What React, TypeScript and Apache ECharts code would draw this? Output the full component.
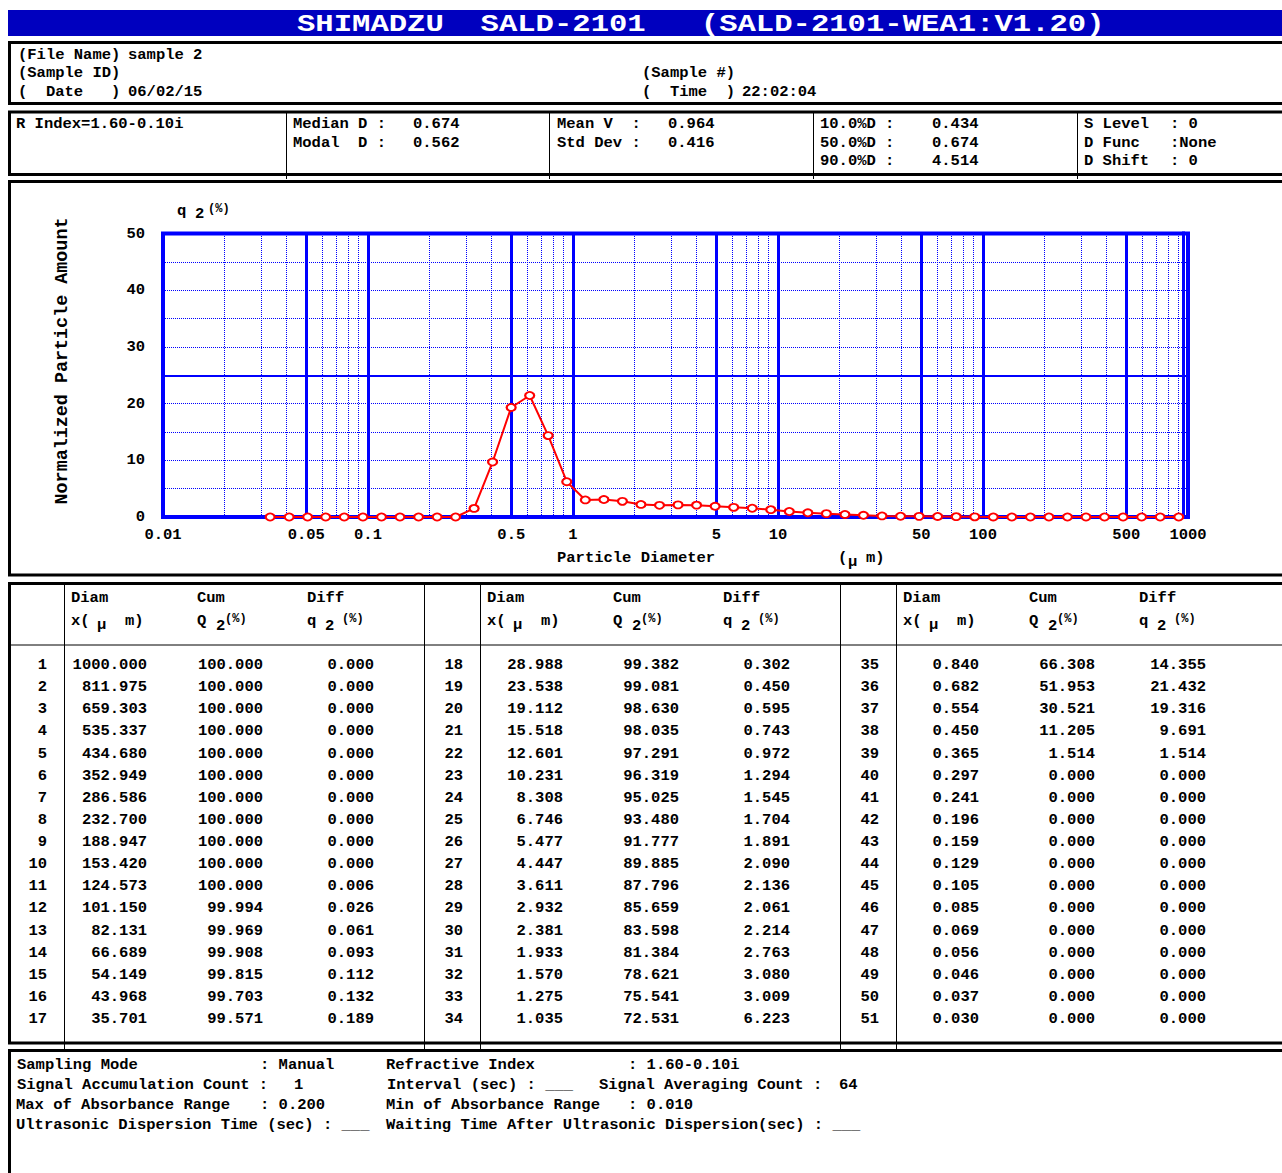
import React, { useEffect, useRef } from "react";
import * as echarts from "echarts";

// ---------- data ----------
const DIAMETERS = [
  1000.0, 811.975, 659.303, 535.337, 434.68, 352.949, 286.586, 232.7, 188.947, 153.42,
  124.573, 101.15, 82.131, 66.689, 54.149, 43.968, 35.701,
  28.988, 23.538, 19.112, 15.518, 12.601, 10.231, 8.308, 6.746, 5.477,
  4.447, 3.611, 2.932, 2.381, 1.933, 1.57, 1.275, 1.035,
  0.84, 0.682, 0.554, 0.45, 0.365, 0.297, 0.241, 0.196, 0.159,
  0.129, 0.105, 0.085, 0.069, 0.056, 0.046, 0.037, 0.03,
];
const CUM_Q2 = [
  100.0, 100.0, 100.0, 100.0, 100.0, 100.0, 100.0, 100.0, 100.0, 100.0,
  100.0, 99.994, 99.969, 99.908, 99.815, 99.703, 99.571,
  99.382, 99.081, 98.63, 98.035, 97.291, 96.319, 95.025, 93.48, 91.777,
  89.885, 87.796, 85.659, 83.598, 81.384, 78.621, 75.541, 72.531,
  66.308, 51.953, 30.521, 11.205, 1.514, 0.0, 0.0, 0.0, 0.0,
  0.0, 0.0, 0.0, 0.0, 0.0, 0.0, 0.0, 0.0,
];
const DIFF_Q2 = [
  0.0, 0.0, 0.0, 0.0, 0.0, 0.0, 0.0, 0.0, 0.0, 0.0,
  0.006, 0.026, 0.061, 0.093, 0.112, 0.132, 0.189,
  0.302, 0.45, 0.595, 0.743, 0.972, 1.294, 1.545, 1.704, 1.891,
  2.09, 2.136, 2.061, 2.214, 2.763, 3.08, 3.009, 6.223,
  14.355, 21.432, 19.316, 9.691, 1.514, 0.0, 0.0, 0.0, 0.0,
  0.0, 0.0, 0.0, 0.0, 0.0, 0.0, 0.0, 0.0,
];

const X_MIN = 0.01;
const X_MAX = 1000;
const Y_MAX = 50;
const X_DECADES = [0.01, 0.1, 1, 10, 100];
const X_MINOR_MULT = [2, 3, 4, 6, 7, 8, 9];
const X_MAJOR_LABELED = [0.05, 0.5, 5, 50, 500];
const X_MAJOR_PLAIN = [0.1, 1, 10, 100];

const TITLE = "SHIMADZU  SALD-2101   (SALD-2101-WEA1:V1.20)";
const FILE_NAME = "sample 2";
const DATE = "06/02/15";
const TIME = "22:02:04";
const R_INDEX = "R Index=1.60-0.10i";
const MEDIAN_D = "0.674";
const MODAL_D = "0.562";
const MEAN_V = "0.964";
const STD_DEV = "0.416";
const PCT_LABELS = ["10.0%D :", "50.0%D :", "90.0%D :"];
const PCT_VALUES = ["0.434", "0.674", "4.514"];
const SET_LABELS = ["S Level", "D Func", "D Shift"];
const SET_VALUES = [": 0", ":None", ": 0"];

// ---------- helpers ----------
const MONO = '"Liberation Mono", "Courier New", monospace';
const BLUE = "#0000ff";

function txt(text: string, x: number, y: number, o: any = {}) {
  const size = o.size ?? 15.5;
  const align = o.align ?? "left";
  return {
    type: "text",
    x,
    y,
    silent: true,
    rotation: o.rotation ?? 0,
    scaleX: o.scaleX ?? 1,
    style: {
      text,
      fill: o.fill ?? "#000",
      font: `bold ${size}px ${MONO}`,
      align,
      textAlign: align,
      verticalAlign: "middle",
      textVerticalAlign: "middle",
    },
  };
}
function line(x1: number, y1: number, x2: number, y2: number, w = 1, c = "#000") {
  return { type: "line", silent: true, shape: { x1, y1, x2, y2 }, style: { stroke: c, lineWidth: w } };
}
function box(x: number, y: number, w: number, h: number) {
  return { type: "rect", silent: true, shape: { x, y, width: w, height: h }, style: { fill: "none", stroke: "#000", lineWidth: 3 } };
}
function fmtNum(v: number) {
  return String(Number(Number(v).toPrecision(6)));
}

export default function App() {
  const ref = useRef<HTMLDivElement>(null);

  useEffect(() => {
    if (!ref.current) return;
    const chart = echarts.init(ref.current, undefined, { renderer: "svg" });

    const points = DIFF_Q2.slice(0, DIAMETERS.length - 1).map((q, i) => [
      Math.sqrt(DIAMETERS[i] * DIAMETERS[i + 1]),
      q,
    ]);

    const labelFont = { color: "#000", fontFamily: MONO, fontSize: 15.5, fontWeight: "bold" };
    const minorStyle = { color: BLUE, width: 1, type: "dotted" };
    const majorStyle = { color: BLUE, width: 3, type: "solid" };
    const markData: any[] = [];
    X_DECADES.forEach((d) =>
      X_MINOR_MULT.forEach((m) => markData.push({ xAxis: d * m, lineStyle: minorStyle }))
    );
    X_MAJOR_PLAIN.forEach((v) => markData.push({ xAxis: v, lineStyle: majorStyle }));
    X_MAJOR_LABELED.forEach((v) =>
      markData.push({
        xAxis: v,
        lineStyle: majorStyle,
        label: { show: true, position: "start", distance: 10, formatter: fmtNum(v), ...labelFont },
      })
    );
    markData.push({ yAxis: Y_MAX / 2, lineStyle: { color: BLUE, width: 2, type: "solid" } });

    const g: any[] = [];
    // title bar
    g.push({ type: "rect", silent: true, shape: { x: 8, y: 10, width: 1274, height: 26 }, style: { fill: "#0000bf" } });
    g.push(txt(TITLE, 297, 24, { size: 24, scaleX: 1.275, fill: "#fff" }));

    // boxes
    g.push(box(9.5, 42.5, 1300, 61));
    g.push(box(9.5, 112, 1300, 62.5));
    g.push(box(9.5, 181.5, 1300, 393.5));
    g.push(box(9.5, 583.5, 1300, 459.5));
    g.push(box(9.5, 1050.5, 1300, 200));

    // box 1
    g.push(txt("(File Name)", 18, 55));
    g.push(txt(FILE_NAME, 128, 55));
    g.push(txt("(Sample ID)", 18, 73));
    g.push(txt("(  Date   )", 18, 92));
    g.push(txt(DATE, 128, 92));
    g.push(txt("(Sample #)", 642, 73));
    g.push(txt("(  Time  )", 642, 92));
    g.push(txt(TIME, 742, 92));

    // box 2
    [286.5, 549.5, 813.5, 1077.5].forEach((x) => g.push(line(x, 112, x, 179)));
    const rowsY = [124, 143, 161];
    g.push(txt(R_INDEX, 16, rowsY[0]));
    g.push(txt("Median D :", 293, rowsY[0]));
    g.push(txt(MEDIAN_D, 413, rowsY[0]));
    g.push(txt("Modal  D :", 293, rowsY[1]));
    g.push(txt(MODAL_D, 413, rowsY[1]));
    g.push(txt("Mean V  :", 557, rowsY[0]));
    g.push(txt(MEAN_V, 668, rowsY[0]));
    g.push(txt("Std Dev :", 557, rowsY[1]));
    g.push(txt(STD_DEV, 668, rowsY[1]));
    PCT_LABELS.forEach((l, i) => {
      g.push(txt(l, 820, rowsY[i]));
      g.push(txt(PCT_VALUES[i], 932, rowsY[i]));
    });
    SET_LABELS.forEach((l, i) => {
      g.push(txt(l, 1084, rowsY[i]));
      g.push(txt(SET_VALUES[i], 1170, rowsY[i]));
    });

    // chart box texts
    g.push(txt("Normalized Particle Amount", 62, 361, { size: 18.4, rotation: Math.PI / 2, align: "center" }));
    g.push(txt("q", 177, 211));
    g.push(txt("2", 195, 214));
    g.push(txt("(%)", 208, 209, { size: 12 }));
    g.push(txt("Particle Diameter", 557, 558));
    g.push(txt("(", 838, 558));
    g.push(txt("μ", 848, 562));
    g.push(txt("m)", 866, 558));
    // inner thick right frame line (the 1000 line itself is the grid border)
    g.push(line(1183.5, 231.5, 1183.5, 519, 3, BLUE));

    // table
    g.push(line(9, 645, 1282, 645, 1));
    [64.5, 424.5, 480.5, 840.5, 896.5].forEach((x) => g.push(line(x, 583, x, 1050, 1)));
    const ROWS = 17;
    for (let grp = 0; grp < 3; grp++) {
      const dx = grp * 416;
      g.push(txt("Diam", 71 + dx, 598));
      g.push(txt("x(", 71 + dx, 621));
      g.push(txt("μ", 97 + dx, 625));
      g.push(txt("m)", 125 + dx, 621));
      g.push(txt("Cum", 197 + dx, 598));
      g.push(txt("Q", 197 + dx, 621));
      g.push(txt("2", 216 + dx, 626));
      g.push(txt("(%)", 225 + dx, 619, { size: 12 }));
      g.push(txt("Diff", 307 + dx, 598));
      g.push(txt("q", 307 + dx, 621));
      g.push(txt("2", 325 + dx, 626));
      g.push(txt("(%)", 342 + dx, 619, { size: 12 }));
      for (let r = 0; r < ROWS; r++) {
        const idx = grp * ROWS + r;
        const y = 665 + r * 22.125;
        g.push(txt(String(idx + 1), 47 + dx, y, { align: "right" }));
        g.push(txt(DIAMETERS[idx].toFixed(3), 147 + dx, y, { align: "right" }));
        g.push(txt(CUM_Q2[idx].toFixed(3), 263 + dx, y, { align: "right" }));
        g.push(txt(DIFF_Q2[idx].toFixed(3), 374 + dx, y, { align: "right" }));
      }
    }

    // bottom box
    const by = [1065, 1085, 1105, 1125];
    g.push(txt("Sampling Mode", 17, by[0]));
    g.push(txt(": Manual", 260, by[0]));
    g.push(txt("Refractive Index", 386, by[0]));
    g.push(txt(": 1.60-0.10i", 628, by[0]));
    g.push(txt("Signal Accumulation Count :", 17, by[1]));
    g.push(txt("1", 294, by[1]));
    g.push(txt("Interval (sec) : ___", 387, by[1]));
    g.push(txt("Signal Averaging Count :", 599, by[1]));
    g.push(txt("64", 839, by[1]));
    g.push(txt("Max of Absorbance Range", 16, by[2]));
    g.push(txt(": 0.200", 260, by[2]));
    g.push(txt("Min of Absorbance Range", 386, by[2]));
    g.push(txt(": 0.010", 628, by[2]));
    g.push(txt("Ultrasonic Dispersion Time (sec) : ___", 16, by[3]));
    g.push(txt("Waiting Time After Ultrasonic Dispersion(sec) : ___", 386, by[3]));

    const option: any = {
      animation: false,
      backgroundColor: "#fff",
      grid: {
        left: 163,
        top: 233.5,
        width: 1025,
        height: 283.5,
        show: true,
        borderColor: BLUE,
        borderWidth: 4,
        containLabel: false,
        outerBoundsMode: "none",
      },
      xAxis: {
        type: "log",
        logBase: 10,
        min: X_MIN,
        max: X_MAX,
        axisLine: { show: false },
        axisTick: { show: false },
        splitLine: { show: false },
        axisLabel: { margin: 10, ...labelFont, formatter: (v: number) => fmtNum(v) },
      },
      yAxis: {
        type: "value",
        min: 0,
        max: Y_MAX,
        interval: 10,
        axisLine: { show: false },
        axisTick: { show: false },
        axisLabel: { margin: 18, ...labelFont },
        splitLine: { show: true, lineStyle: { color: BLUE, width: 1, type: "dotted" } },
        minorTick: { show: false, splitNumber: 2 },
        minorSplitLine: { show: true, lineStyle: { color: BLUE, width: 1, type: "dotted" } },
      },
      series: [
        {
          type: "line",
          name: "q2",
          z: 3,
          data: points,
          symbol: "emptyCircle",
          symbolSize: [9, 7],
          showAllSymbol: true,
          color: "#ff0000",
          itemStyle: { color: "#ff0000", borderWidth: 1.5 },
          lineStyle: { color: "#ff0000", width: 2 },
          markLine: {
            silent: true,
            z: 1,
            animation: false,
            symbol: ["none", "none"],
            label: { show: false },
            emphasis: { disabled: true },
            data: markData,
          },
        },
      ],
      graphic: { elements: g },
    };

    chart.setOption(option);
    return () => chart.dispose();
  }, []);

  return (
    <div
      ref={ref}
      style={{ position: "absolute", left: 0, top: 0, width: 1282, height: 1173, background: "#fff" }}
    />
  );
}
